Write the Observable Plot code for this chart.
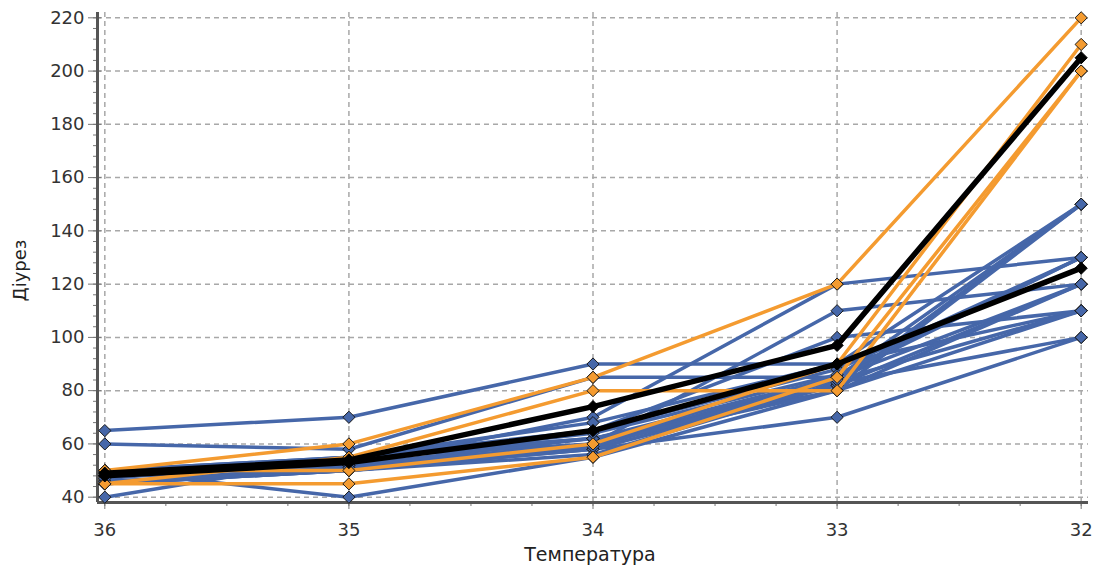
<!DOCTYPE html>
<html>
<head>
<meta charset="utf-8">
<script src="https://cdn.jsdelivr.net/npm/d3@7"></script>
<script src="https://cdn.jsdelivr.net/npm/@observablehq/plot@0.6"></script>
<style>
  html, body { margin: 0; padding: 0; background: #fff; }
  #chart { width: 1094px; height: 568px; }
</style>
</head>
<body>
<div id="chart"></div>
<script>
// Temperature categories (x axis)
const temps = [36, 35, 34, 33, 32];

// Blue series (values at 36, 35, 34, 33, 32)
const blueSeries = [
  [65, 70, 90, 90, 110],
  [60, 58, 85, 85, 120],
  [40, 55, 62, 82, 150],
  [50, 40, 55, 80, 110],
  [48, 52, 70, 120, 130],
  [45, 50, 60, 110, 120],
  [50, 55, 65, 100, 110],
  [45, 50, 58, 70, 100],
  [48, 55, 60, 85, 150],
  [45, 52, 62, 80, 150],
  [50, 53, 65, 88, 130],
  [45, 50, 58, 82, 120],
  [48, 55, 68, 90, 150],
  [45, 52, 60, 80, 120],
  [50, 55, 62, 85, 130],
  [46, 50, 56, 83, 100],
  [47, 54, 64, 86, 130],
  [49, 51, 59, 84, 110]
];

// Orange series
const orangeSeries = [
  [50, 60, 85, 120, 220],
  [45, 55, 80, 80, 200],
  [50, 50, 60, 90, 210],
  [45, 45, 55, 85, 200]
];

// Black (group average) series
const blackSeries = [
  [49, 54, 74, 97, 205],
  [48, 53, 65, 90, 126]
];

// Tick values
const yMajorTicks = [40, 60, 80, 100, 120, 140, 160, 180, 200, 220];
const yMinorTicks = d3.range(40, 221, 4);
const xMinorTicks = d3.range(32, 36.001, 0.25);

const xLabel = "Температура";
const yLabel = "Діурез";

const xDomain = [36.03, 31.97];
const yDomain = [38, 222];

function toRows(series, group) {
  const rows = [];
  series.forEach((vals, i) => {
    vals.forEach((v, j) => rows.push({id: group + i, t: temps[j], v}));
  });
  return rows;
}

const blueRows = toRows(blueSeries, "b");
const orangeRows = toRows(orangeSeries, "o");
const blackRows = toRows(blackSeries, "k");

const BLUE = "#4667a9";
const ORANGE = "#f49b30";
const BLACK = "#000000";

const chart = Plot.plot({
  width: 1094,
  height: 568,
  marginLeft: 97,
  marginRight: 6,
  marginTop: 12,
  marginBottom: 66,
  style: {fontFamily: "DejaVu Sans, sans-serif", fontSize: "18px", color: "#333", background: "#fff"},
  x: {type: "linear", domain: xDomain},
  y: {type: "linear", domain: yDomain},
  marks: [
    Plot.gridY(yMajorTicks, {stroke: "#a8a8a8", strokeOpacity: 1, strokeDasharray: "5,4", strokeWidth: 1.5}),
    Plot.gridX(temps, {stroke: "#a8a8a8", strokeOpacity: 1, strokeDasharray: "5,4", strokeWidth: 1.5}),
    Plot.axisY(yMinorTicks, {tickSize: 4, tickFormat: () => "", stroke: "#777", label: null}),
    Plot.axisY(yMajorTicks, {tickSize: 9, tickPadding: 4, fontSize: 18, stroke: "#777", fill: "#333", label: null}),
    Plot.axisY(yMajorTicks, {tickSize: -4, tickFormat: () => "", stroke: "#777", label: null}),
    Plot.axisX(xMinorTicks, {tickSize: 4, tickFormat: () => "", stroke: "#777", label: null}),
    Plot.axisX(temps, {tickSize: 7, tickPadding: 14, fontSize: 18, stroke: "#777", fill: "#333", tickFormat: d3.format("d"), label: null}),
    Plot.ruleX([xDomain[0]], {stroke: "#555", strokeWidth: 3}),
    Plot.ruleY([yDomain[0]], {stroke: "#555", strokeWidth: 3}),
    Plot.line(blueRows, {x: "t", y: "v", z: "id", stroke: BLUE, strokeWidth: 3.5}),
    Plot.dot(blueRows, {x: "t", y: "v", symbol: "diamond2", r: 5.5, fill: BLUE, stroke: "#1a1a1a", strokeWidth: 1}),
    Plot.line(orangeRows, {x: "t", y: "v", z: "id", stroke: ORANGE, strokeWidth: 3.5}),
    Plot.dot(orangeRows, {x: "t", y: "v", symbol: "diamond2", r: 5.5, fill: ORANGE, stroke: "#1a1a1a", strokeWidth: 1}),
    Plot.line(blackRows, {x: "t", y: "v", z: "id", stroke: BLACK, strokeWidth: 5.5}),
    Plot.dot(blackRows, {x: "t", y: "v", symbol: "diamond2", r: 5.5, fill: BLACK, stroke: BLACK, strokeWidth: 1}),
    Plot.text([yLabel], {text: d => d, frameAnchor: "left", textAnchor: "middle", dx: -77, dy: 13, rotate: -90, fontSize: 18, fill: "#222"}),
    Plot.text([xLabel], {text: d => d, frameAnchor: "bottom", textAnchor: "middle", dx: -3, dy: 58, fontSize: 19, fill: "#222", style: "letter-spacing: 2px"})
  ]
});
document.getElementById("chart").appendChild(chart);
</script>
</body>
</html>
